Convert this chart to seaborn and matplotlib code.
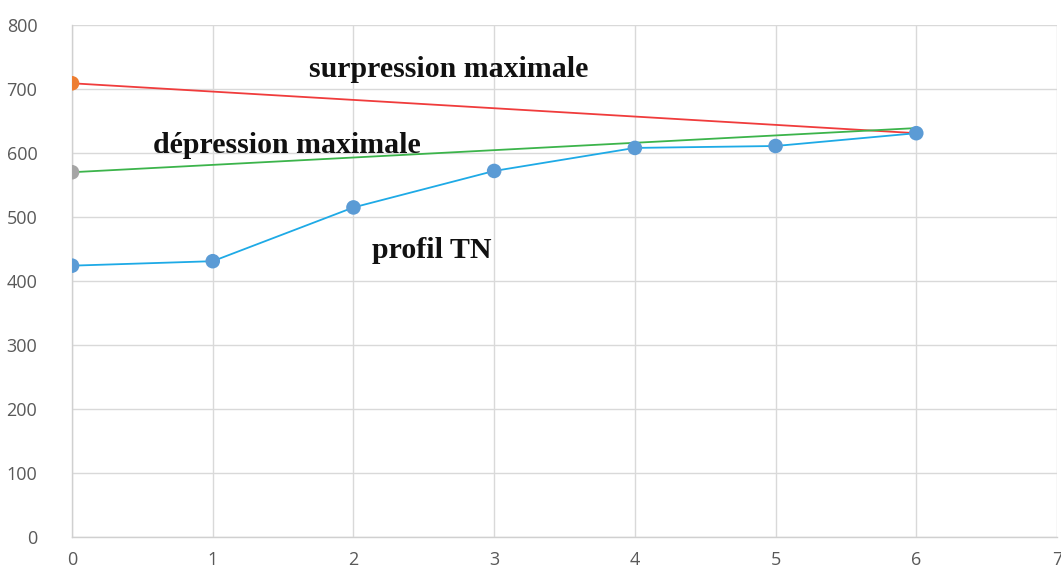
import matplotlib
matplotlib.use("Agg")
import matplotlib.pyplot as plt
import seaborn as sns
import pandas as pd

# Data
tn_x = [0, 1, 2, 3, 4, 5, 6]
tn_y = [424, 431, 515, 572, 608, 611, 631]
surp_x = [0, 6]
surp_y = [709, 631]
dep_x = [0, 6]
dep_y = [570, 639]
x_ticks = [0, 1, 2, 3, 4, 5, 6, 7]
y_ticks = [0, 100, 200, 300, 400, 500, 600, 700, 800]

sns.set_theme(style="white")
plt.rcParams['font.family'] = ['Open Sans', 'DejaVu Sans']

fig = plt.figure(figsize=(10.61, 5.69), dpi=100)
ax = fig.add_axes([0.0679, 0.0562, 0.9283, 0.8998])

df_tn = pd.DataFrame({"x": tn_x, "y": tn_y})
df_s = pd.DataFrame({"x": surp_x, "y": surp_y})
df_d = pd.DataFrame({"x": dep_x, "y": dep_y})

sns.lineplot(data=df_s, x="x", y="y", ax=ax, color="#F03C3C", lw=1.3, zorder=3)
sns.lineplot(data=df_d, x="x", y="y", ax=ax, color="#3CB44B", lw=1.3, zorder=3)
sns.lineplot(data=df_tn, x="x", y="y", ax=ax, color="#1EAAE6", lw=1.3, zorder=4)
sns.scatterplot(data=df_tn, x="x", y="y", ax=ax, color="#5B9BD5", s=110,
                edgecolor="none", zorder=5)
sns.scatterplot(data=df_s.iloc[[0]], x="x", y="y", ax=ax, color="#ED7D31", s=110,
                edgecolor="none", zorder=5)
sns.scatterplot(data=df_d.iloc[[0]], x="x", y="y", ax=ax, color="#A5A5A5", s=110,
                edgecolor="none", zorder=5)

ax.set_xlim(0, 7)
ax.set_ylim(0, 800)
ax.set_xticks(x_ticks)
ax.set_yticks(y_ticks)
ax.set_xlabel("")
ax.set_ylabel("")
ax.grid(True, color="#D9D9D9", lw=1.0)
ax.set_axisbelow(True)
for side in ["top", "right"]:
    ax.spines[side].set_visible(False)
for side in ["left", "bottom"]:
    ax.spines[side].set_color("#D0D0D0")
    ax.spines[side].set_linewidth(1.0)
ax.tick_params(axis="both", length=0, labelsize=13, colors="#595959")
ax.tick_params(axis="x", pad=10)
ax.tick_params(axis="y", pad=25)

tfont = dict(family="Liberation Serif", fontweight="bold", fontsize=21.5, color="#111111")
ax.text(2.68, 730, "surpression maximale", ha="center", va="center", **tfont)
ax.text(1.53, 612, "dépression maximale", ha="center", va="center", **tfont)
ax.text(2.56, 448, "profil TN", ha="center", va="center", **tfont)

fig.savefig("out.png", dpi=100)
